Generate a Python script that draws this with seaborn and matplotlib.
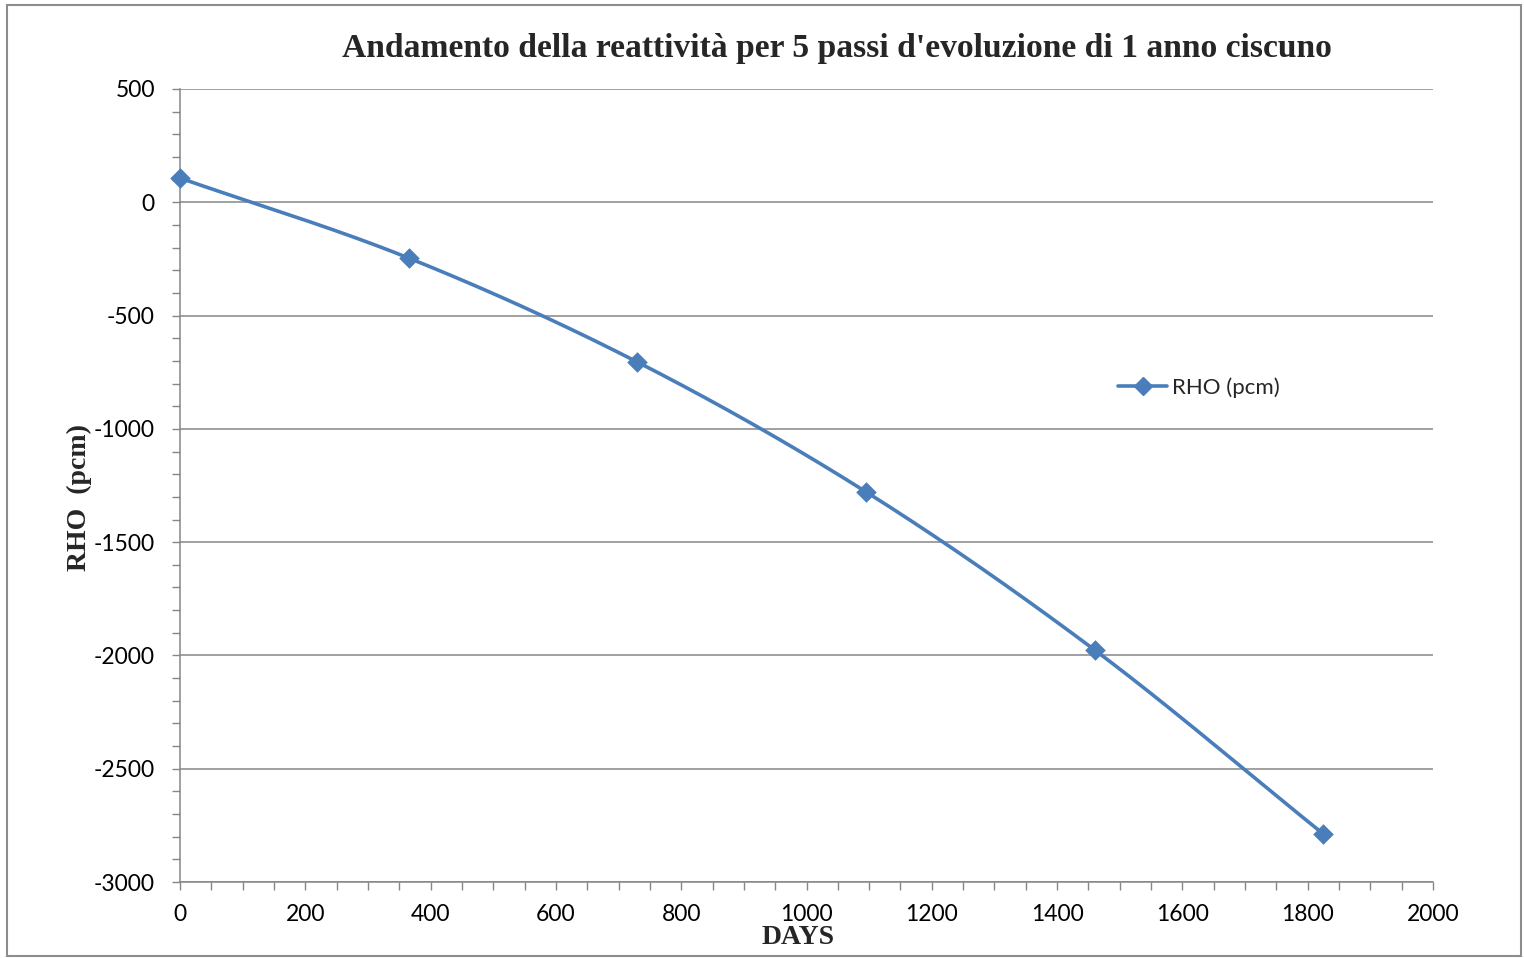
import numpy as np
import pandas as pd
import matplotlib
matplotlib.use("Agg")
import matplotlib.pyplot as plt
from matplotlib.lines import Line2D
from matplotlib.patches import Rectangle
from matplotlib.ticker import MultipleLocator
import seaborn as sns

# Burnup steps (days) and reactivity (pcm)
days = [0, 365, 730, 1095, 1460, 1825]
rho_pcm = [107, -246, -705, -1278, -1976, -2788]
series_name = "RHO (pcm)"
title = "Andamento della reattività per 5 passi d'evoluzione di 1 anno ciscuno"
x_label = "DAYS"
y_label = "RHO  (pcm)"


def smooth_curve(x, y, n=40):
    """Catmull-Rom style smoothing through the given points."""
    x = np.asarray(x, float)
    y = np.asarray(y, float)
    xs, ys = [], []
    m = len(x)
    for i in range(m - 1):
        i0, i3 = max(i - 1, 0), min(i + 2, m - 1)
        tx1 = (x[i + 1] - x[i0]) / (i + 1 - i0)
        ty1 = (y[i + 1] - y[i0]) / (i + 1 - i0)
        tx2 = (x[i3] - x[i]) / (i3 - i)
        ty2 = (y[i3] - y[i]) / (i3 - i)
        t = np.linspace(0, 1, n, endpoint=(i == m - 2))
        h00 = 2 * t**3 - 3 * t**2 + 1
        h10 = t**3 - 2 * t**2 + t
        h01 = -2 * t**3 + 3 * t**2
        h11 = t**3 - t**2
        xs.append(h00 * x[i] + h10 * tx1 + h01 * x[i + 1] + h11 * tx2)
        ys.append(h00 * y[i] + h10 * ty1 + h01 * y[i + 1] + h11 * ty2)
    return np.concatenate(xs), np.concatenate(ys)


sns.set_theme(style="white")
plt.rcParams["font.family"] = ["Lato", "DejaVu Sans"]
plt.rcParams["axes.unicode_minus"] = False

blue = "#4a7ebb"
grid_col = "#868686"

fig = plt.figure(figsize=(15.24, 9.58), dpi=100)
fig.patches.append(Rectangle((0.0046, 0.002), 0.9935, 0.993, transform=fig.transFigure,
                             fill=False, edgecolor="#8c8c8c", linewidth=1.5))
ax = fig.add_axes([0.1181, 0.0793, 0.8222, 0.8278])

sx, sy = smooth_curve(days, rho_pcm)
curve = pd.DataFrame({"days": sx, "rho": sy})
points = pd.DataFrame({"days": days, "rho": rho_pcm})
sns.lineplot(data=curve, x="days", y="rho", ax=ax, color=blue, linewidth=2.6,
             sort=False, estimator=None, zorder=3)
sns.scatterplot(data=points, x="days", y="rho", ax=ax, color=blue, marker="D",
                s=110, edgecolor=blue, linewidth=0, zorder=4, clip_on=False)

ax.set_xlim(0, 2000)
ax.set_ylim(-3000, 500)
ax.xaxis.set_major_locator(MultipleLocator(200))
ax.xaxis.set_minor_locator(MultipleLocator(50))
ax.yaxis.set_major_locator(MultipleLocator(500))
ax.yaxis.set_minor_locator(MultipleLocator(100))
ax.grid(axis="y", which="major", color=grid_col, linewidth=1.1)
ax.set_axisbelow(True)
for side in ("top", "right"):
    ax.spines[side].set_visible(False)
for side in ("left", "bottom"):
    ax.spines[side].set_color(grid_col)
    ax.spines[side].set_linewidth(1.1)
ax.tick_params(axis="both", which="both", direction="out", color=grid_col,
               width=1, length=6, labelsize=16.5, labelcolor="black",
               bottom=True, left=True)
ax.tick_params(axis="x", which="major", pad=10)
ax.tick_params(axis="y", which="major", pad=12)

ax.set_xlabel("")
ax.set_ylabel(y_label, fontsize=20, fontweight="bold", family="Liberation Serif", labelpad=-5)
ax.yaxis.set_label_coords(-0.0700, 0.485)
fig.text(0.5236, 0.021, x_label, ha="center", va="center", fontsize=20,
         fontweight="bold", family="Liberation Serif")
fig.text(0.549, 0.949, title, ha="center", va="center", fontsize=24.2,
         fontweight="bold", family="Liberation Serif")

handle = Line2D([], [], color=blue, linewidth=2.6, marker="D", markersize=9)
ax.legend([handle], [series_name], loc="center left", bbox_to_anchor=(0.733, 0.623),
          frameon=False, fontsize=16, handlelength=2.2, handletextpad=0.2)

fig.savefig("out.png", dpi=100)
